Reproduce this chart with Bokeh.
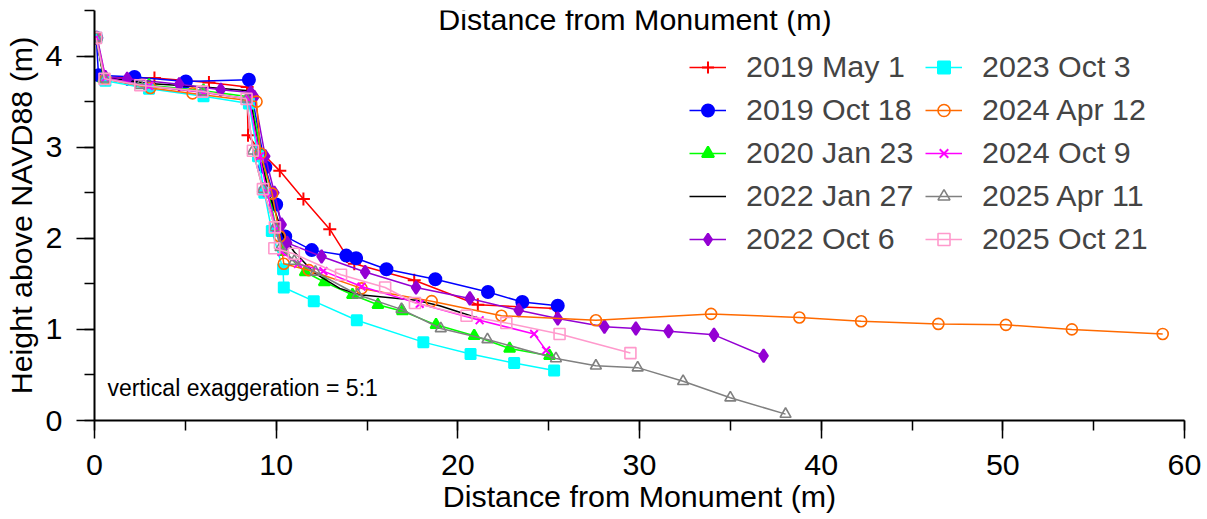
from bokeh.plotting import figure
from bokeh.models import Range1d, SingleIntervalTicker, Legend, LegendItem, Label
from bokeh.embed import file_html
from bokeh.resources import INLINE

FONT = "Liberation Sans"
FS = "30.4px"

labels = ["2019 May 1", "2019 Oct 18", "2020 Jan 23", "2022 Jan 27", "2022 Oct 6",
          "2023 Oct 3", "2024 Apr 12", "2024 Oct 9", "2025 Apr 11", "2025 Oct 21"]

may19_x = [0.1, 0.5, 3.3, 6.3, 8.4, 8.45, 9.1, 10.2, 11.5, 12.95, 13.9, 14.3, 17.6, 21.1, 25.4]
may19_y = [4.2, 3.77, 3.76, 3.71, 3.66, 3.13, 2.96, 2.74, 2.43, 2.10, 1.80, 1.72, 1.54, 1.27, 1.23]

oct19_x = [0.1, 0.22, 2.2, 5.03, 8.5, 9.4, 10.0, 10.5, 11.96, 13.86, 14.4, 16.07, 18.76, 21.66, 23.55, 25.5]
oct19_y = [4.2, 3.79, 3.77, 3.72, 3.74, 2.78, 2.37, 2.02, 1.87, 1.81, 1.78, 1.66, 1.55, 1.41, 1.30, 1.26]

jan20_x = [0.1, 0.5, 3.0, 6.0, 8.6, 9.2, 9.6, 10.0, 10.4, 11.6, 12.65, 14.2, 15.6, 16.95, 18.8, 20.9, 22.85, 25.05]
jan20_y = [4.2, 3.75, 3.68, 3.62, 3.55, 2.90, 2.50, 2.10, 1.85, 1.63, 1.52, 1.38, 1.27, 1.20, 1.05, 0.93, 0.79, 0.71]

jan22_x = [0.1, 0.5, 3.0, 6.0, 8.5, 9.1, 9.6, 10.1, 10.4, 11.0, 12.1, 13.5, 14.6, 17.7, 19.0, 21.0]
jan22_y = [4.2, 3.77, 3.70, 3.66, 3.62, 2.90, 2.50, 2.20, 2.02, 1.85, 1.62, 1.45, 1.38, 1.32, 1.26, 1.13]

oct22_x = [0.15, 0.6, 1.8, 4.66, 6.95, 8.6, 8.8, 9.4, 9.9, 10.3, 10.6, 12.5, 14.9, 17.7, 20.66, 23.35,
           25.5, 28.07, 29.8, 31.6, 34.1, 36.83]
oct22_y = [4.2, 3.77, 3.75, 3.69, 3.63, 3.60, 3.55, 2.90, 2.50, 2.15, 1.95, 1.80, 1.63, 1.46, 1.34, 1.21,
           1.12, 1.03, 1.01, 0.98, 0.94, 0.71]

oct23_x = [0.1, 0.6, 3.0, 6.0, 8.5, 9.0, 9.35, 9.76, 10.38, 10.42, 12.07, 14.44, 18.1, 20.7, 23.1, 25.3]
oct23_y = [4.2, 3.73, 3.64, 3.56, 3.48, 2.90, 2.50, 2.08, 1.66, 1.46, 1.31, 1.10, 0.86, 0.73, 0.63, 0.55]

apr24_x = [0.1, 0.6, 3.07, 5.4, 8.92, 9.14, 9.78, 10.2, 10.42, 11.8, 14.7, 18.56, 22.4, 27.6, 33.94,
           38.8, 42.2, 46.45, 50.17, 53.8, 58.8]
apr24_y = [4.2, 3.75, 3.65, 3.59, 3.50, 2.93, 2.49, 2.02, 1.72, 1.65, 1.45, 1.31, 1.15, 1.10, 1.17,
           1.13, 1.09, 1.06, 1.05, 1.00, 0.95]

oct24_x = [0.1, 0.6, 3.0, 6.0, 8.5, 9.1, 9.5, 10.0, 10.3, 11.2, 12.6, 14.7, 17.9, 21.2, 24.2, 24.86]
oct24_y = [4.2, 3.76, 3.67, 3.60, 3.53, 2.90, 2.50, 2.10, 1.85, 1.72, 1.64, 1.47, 1.28, 1.10, 0.95, 0.77]

apr25_x = [0.09, 0.55, 2.52, 5.94, 8.37, 8.72, 9.27, 9.93, 10.24, 11.0, 12.16, 14.48, 16.9, 19.06,
           21.63, 25.4, 27.6, 29.9, 32.4, 35.0, 38.04]
apr25_y = [4.2, 3.75, 3.68, 3.61, 3.53, 2.96, 2.54, 2.12, 1.90, 1.75, 1.63, 1.38, 1.22, 1.01,
           0.89, 0.68, 0.60, 0.58, 0.43, 0.25, 0.07]

oct25_x = [0.09, 0.55, 2.52, 5.94, 8.37, 8.72, 9.27, 9.93, 9.9, 10.97, 13.57, 16.0, 17.64, 20.48,
           22.67, 25.6, 29.5]
oct25_y = [4.2, 3.75, 3.68, 3.61, 3.53, 2.96, 2.54, 2.12, 1.89, 1.83, 1.60, 1.46, 1.29, 1.15,
           1.07, 0.95, 0.74]

series_x = [may19_x, oct19_x, jan20_x, jan22_x, oct22_x, oct23_x, apr24_x, oct24_x, apr25_x, oct25_x]
series_y = [may19_y, oct19_y, jan20_y, jan22_y, oct22_y, oct23_y, apr24_y, oct24_y, apr25_y, oct25_y]

colors = ["#FF0000", "#0000FF", "#00FF00", "#000000", "#9400D3",
          "#00FFFF", "#FF6A00", "#FF00FF", "#808080", "#FF99CC"]
# marker, size, filled
markers = [("cross", 13, True), ("circle", 12, True), ("triangle", 11, True), (None, 0, True),
           ("diamond", 13, True), ("square", 10, True), ("circle", 11, False), ("x", 11, True),
           ("triangle", 11, False), ("square", 11, False)]

p = figure(width=1207, height=519, output_backend="svg", toolbar_location=None,
           x_range=Range1d(0, 60), y_range=Range1d(0, 4.5),
           min_border_left=90, min_border_right=23, min_border_top=10, min_border_bottom=99)
p.outline_line_color = None
p.grid.visible = False
p.background_fill_color = "white"

items = []
for lab, xs, ys, col, (mk, sz, filled) in zip(labels, series_x, series_y, colors, markers):
    rs = [p.line(xs, ys, line_color=col, line_width=1.5)]
    if mk is not None:
        if filled:
            r = p.scatter(xs, ys, marker=mk, size=sz, line_color=col, fill_color=col, line_width=2)
        else:
            r = p.scatter(xs, ys, marker=mk, size=sz, line_color=col, fill_color=None, line_width=1.6)
        rs.append(r)
    items.append(LegendItem(label=lab, renderers=rs))

legend = Legend(items=items, ncols=2, location=(595, 164),
                label_text_font=FONT, label_text_font_size=FS,
                glyph_width=37, glyph_height=30, label_height=30, label_width=171,
                label_standoff=20, spacing=8, padding=0, margin=0,
                border_line_color=None, background_fill_alpha=0)
p.add_layout(legend)

for ax in (p.xaxis[0], p.yaxis[0]):
    ax.axis_line_width = 2
    ax.major_tick_line_width = 1.5
    ax.minor_tick_line_width = 1.5
    ax.major_tick_in = 0
    ax.minor_tick_in = 0
    ax.major_tick_out = 18
    ax.minor_tick_out = 10
    ax.major_label_text_font = FONT
    ax.major_label_text_font_size = FS
    ax.major_label_text_color = "black"
    ax.axis_label_text_font = FONT
    ax.axis_label_text_font_size = FS
    ax.axis_label_text_font_style = "normal"
    ax.axis_label_text_color = "black"

p.xaxis.ticker = SingleIntervalTicker(interval=10, num_minor_ticks=2)
p.yaxis.ticker = SingleIntervalTicker(interval=1, num_minor_ticks=2)
p.xaxis.axis_label = "Distance from Monument (m)"
p.yaxis.axis_label = "Height above NAVD88 (m)"
p.xaxis.major_label_standoff = 16
p.yaxis.major_label_standoff = 14
p.xaxis.axis_label_standoff = 1
p.yaxis.axis_label_standoff = 5

p.add_layout(Label(x=0.71, y=0.36, text="vertical exaggeration = 5:1", text_font=FONT,
                   text_font_size="23px", text_baseline="middle", text_color="black"))

# top title of the original (cut off there); kept fully inside the picture here
p.add_layout(Label(x=29.75, y=4.595, text="Distance from Monument (m)", text_font=FONT,
                   text_font_size=FS, text_align="center", text_baseline="top",
                   text_color="black"))

open("out.html", "w").write(file_html(p, INLINE))
